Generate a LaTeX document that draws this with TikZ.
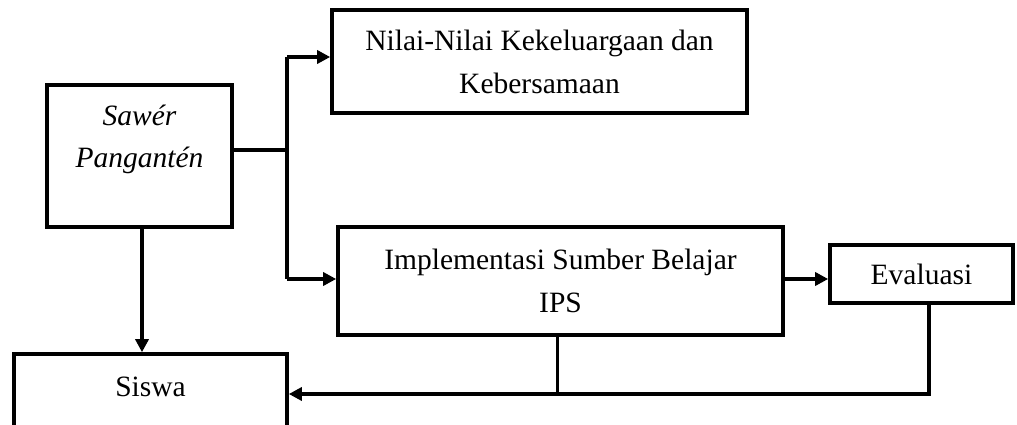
\documentclass[tikz,border=0pt]{standalone}
\usepackage{fontspec}
\setmainfont{Liberation Serif}
\usetikzlibrary{arrows.meta,calc}
\begin{document}
\begin{tikzpicture}[x=1pt,y=-1pt,
  box/.style={draw,line width=3.6pt,inner sep=0pt,align=center,font=\fontsize{29.5}{43}\selectfont},
  txt/.style={inner sep=0pt,align=center,font=\fontsize{29.5}{42}\selectfont},
  conn/.style={line width=3.6pt},
  arr/.style={line width=3.6pt,-{Triangle[length=13pt,width=13pt]}}]
\useasboundingbox (0,0) rectangle (1017,425);
\clip (0,0) rectangle (1017,425);
\node[box,minimum width=185pt,minimum height=142pt] (sawer) at (139.5,156) {};
\node[txt] (sawertxt) at (139.5,139) {\itshape Sawér\\\itshape Pangantén};
\node[box,minimum width=415pt,minimum height=103pt] (nilai) at (539.5,61.5) {Nilai-Nilai Kekeluargaan dan\\Kebersamaan};
\node[box,minimum width=445pt,minimum height=108pt] (impl) at (560.5,281) {Implementasi Sumber Belajar\\IPS};
\node[box,minimum width=183pt,minimum height=58pt] (eval) at (921.5,274) {Evaluasi};
\node[box,minimum width=273pt,minimum height=130pt] (siswa) at (150.5,419) {};
\node[txt] (siswatxt) at (150.5,387) {Siswa};
\coordinate (t0) at (287,150);
\coordinate (t1) at (287,57);
\coordinate (t2) at (287,279);
\coordinate (b0) at (929,394);
\draw[conn] (sawer.east |- t0) -- (t0);
\draw[conn] (t1) -- (t2);
\draw[arr] (t1) -- (t1 -| nilai.west);
\draw[arr] (t2) -- (t2 -| impl.west);
\draw[arr] (t2 -| impl.east) -- (t2 -| eval.west);
\draw[arr] ($(sawer.south)+(2.5,0)$) -- ($(sawer.south |- siswa.north)+(2.5,0)$);
\draw[conn] (b0 |- eval.south) -- (b0) -- (b0 -| impl.south);
\draw[conn] ($(impl.south)+(-3,0)$) -- ($(impl.south |- b0)+(-3,0)$);
\draw[arr] (b0 -| impl.south) -- (b0 -| siswa.east);
\end{tikzpicture}
\end{document}
